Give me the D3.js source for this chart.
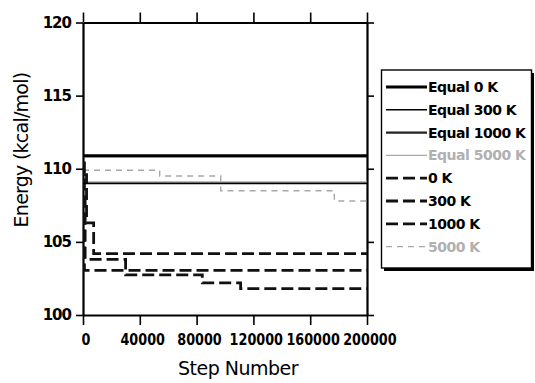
<!DOCTYPE html>
<html>
<head>
<meta charset="utf-8">
<script src="https://cdn.jsdelivr.net/npm/d3@7"></script>
<style>
  html, body { margin: 0; padding: 0; background: #fff; }
  svg { display: block; }
</style>
</head>
<body>
<svg id="chart" width="535" height="383"></svg>
<script>
// Energy traces: each series is a step function, given by the step at which
// a new energy level starts and the energy (kcal/mol) held from there on.
const xTicks = [0, 40000, 80000, 120000, 160000, 200000];
const yTicks = [100, 105, 110, 115, 120];
const lastStep = 200000;

const equal0KSteps = [0];
const equal0KEnergy = [110.9];
const equal300KSteps = [0];
const equal300KEnergy = [109.0];
const equal1000KSteps = [0];
const equal1000KEnergy = [110.85];
const equal5000KSteps = [0];
const equal5000KEnergy = [109.1];

const run0KSteps = [0, 1000];
const run0KEnergy = [110.4, 103.05];
const run300KSteps = [0, 2500, 7500];
const run300KEnergy = [109.6, 106.3, 104.2];
const run1000KSteps = [0, 1500, 30000, 84000, 111000];
const run1000KEnergy = [108.0, 103.8, 102.75, 102.2, 101.8];
const run5000KSteps = [0, 54000, 97000, 177000];
const run5000KEnergy = [109.9, 109.5, 108.5, 107.8];

const seriesNames = ["Equal 0 K", "Equal 300 K", "Equal 1000 K", "Equal 5000 K",
                     "0 K", "300 K", "1000 K", "5000 K"];

const series = [
  { name: seriesNames[7], steps: run5000KSteps, energy: run5000KEnergy, color: "#a8a8a8", width: 1.4, dash: "6,5", text: "#b0b0b0" },
  { name: seriesNames[3], steps: equal5000KSteps, energy: equal5000KEnergy, color: "#a8a8a8", width: 1.4, dash: null, text: "#b0b0b0" },
  { name: seriesNames[4], steps: run0KSteps, energy: run0KEnergy, color: "#111", width: 2.8, dash: "12,5", text: "#000" },
  { name: seriesNames[5], steps: run300KSteps, energy: run300KEnergy, color: "#111", width: 2.8, dash: "12,5", text: "#000" },
  { name: seriesNames[6], steps: run1000KSteps, energy: run1000KEnergy, color: "#111", width: 2.8, dash: "12,5", text: "#000" },
  { name: seriesNames[2], steps: equal1000KSteps, energy: equal1000KEnergy, color: "#222", width: 2.4, dash: null, text: "#000" },
  { name: seriesNames[1], steps: equal300KSteps, energy: equal300KEnergy, color: "#000", width: 1.6, dash: null, text: "#000" },
  { name: seriesNames[0], steps: equal0KSteps, energy: equal0KEnergy, color: "#000", width: 2.8, dash: null, text: "#000" }
];

const svg = d3.select("#chart");
const x = d3.scaleLinear().domain([0, 200000]).range([83, 367]);
const y = d3.scaleLinear().domain([100, 120]).range([315, 22.5]);

const tickFont = "'DejaVu Sans', sans-serif";

// Frame with outward ticks on all four sides
const axisB = svg.append("g").attr("transform", `translate(0,${y(100)})`)
  .call(d3.axisBottom(x).tickValues(xTicks).tickSize(10).tickSizeOuter(0).tickPadding(9).tickFormat(d3.format("d")));
const axisT = svg.append("g").attr("transform", `translate(0,${y(120)})`)
  .call(d3.axisTop(x).tickValues(xTicks).tickSize(10).tickSizeOuter(0).tickFormat(""));
const axisL = svg.append("g").attr("transform", `translate(${x(0)},0)`)
  .call(d3.axisLeft(y).tickValues(yTicks).tickSize(7).tickSizeOuter(0).tickPadding(5).tickFormat(d3.format("d")));
const axisR = svg.append("g").attr("transform", `translate(${x(200000)},0)`)
  .call(d3.axisRight(y).tickValues(yTicks).tickSize(7).tickSizeOuter(0).tickFormat(""));

[axisB, axisT, axisL, axisR].forEach(g => {
  g.select(".domain").attr("stroke", "#000").attr("stroke-width", 2.2);
  g.selectAll(".tick line").attr("stroke", "#000").attr("stroke-width", 1.6);
  g.selectAll(".tick text")
    .attr("fill", "#000")
    .attr("font-family", tickFont)
    .attr("font-weight", "bold")
    .attr("font-size", "15px");
});

// Step labels use a horizontally condensed bold face so the long numbers fit the tick spacing
axisB.selectAll(".tick text")
  .attr("font-size", "16px")
  .attr("dx", "3")
  .attr("transform", "scale(0.8,1)");
axisL.selectAll(".tick text").attr("letter-spacing", "-1px");

// Traces
const line = d3.line()
  .x(d => x(d[0]))
  .y(d => y(d[1]))
  .curve(d3.curveStepAfter);

const plot = svg.append("g");
series.forEach(s => {
  const pts = s.steps.map((st, i) => [st, s.energy[i]]);
  pts.push([lastStep, s.energy[s.energy.length - 1]]);
  plot.append("path")
    .datum(pts)
    .attr("fill", "none")
    .attr("stroke", s.color)
    .attr("stroke-width", s.width)
    .attr("stroke-dasharray", s.dash)
    .attr("d", line);
});

// Axis titles
svg.append("text")
  .attr("x", 238).attr("y", 375)
  .attr("text-anchor", "middle")
  .attr("font-family", tickFont)
  .attr("font-size", "19px")
  .attr("letter-spacing", "-0.5px")
  .attr("fill", "#000")
  .text("Step Number");

svg.append("text")
  .attr("transform", "translate(28,150) rotate(-90)")
  .attr("text-anchor", "middle")
  .attr("font-family", tickFont)
  .attr("font-size", "19px")
  .attr("letter-spacing", "-0.75px")
  .attr("fill", "#000")
  .text("Energy (kcal/mol)");

// Legend box with a drop shadow
const lg = svg.append("g");
lg.append("rect").attr("x", 384).attr("y", 73).attr("width", 150).attr("height", 198).attr("fill", "#000");
lg.append("rect").attr("x", 381.5).attr("y", 70).attr("width", 150).attr("height", 198)
  .attr("fill", "#fff").attr("stroke", "#000").attr("stroke-width", 1.4);

const legendOrder = seriesNames.map(n => series.find(s => s.name === n));
legendOrder.forEach((s, i) => {
  const cy = 87 + i * 22.8;
  lg.append("line")
    .attr("x1", 386).attr("x2", 427)
    .attr("y1", cy).attr("y2", cy)
    .attr("stroke", s.color)
    .attr("stroke-width", s.width)
    .attr("stroke-dasharray", s.dash);
  lg.append("text")
    .attr("x", 428).attr("y", cy)
    .attr("dy", "0.36em")
    .attr("font-family", tickFont)
    .attr("font-weight", "bold")
    .attr("font-size", "14px")
    .attr("letter-spacing", "-0.5px")
    .attr("fill", s.text)
    .text(s.name);
});
</script>
</body>
</html>
